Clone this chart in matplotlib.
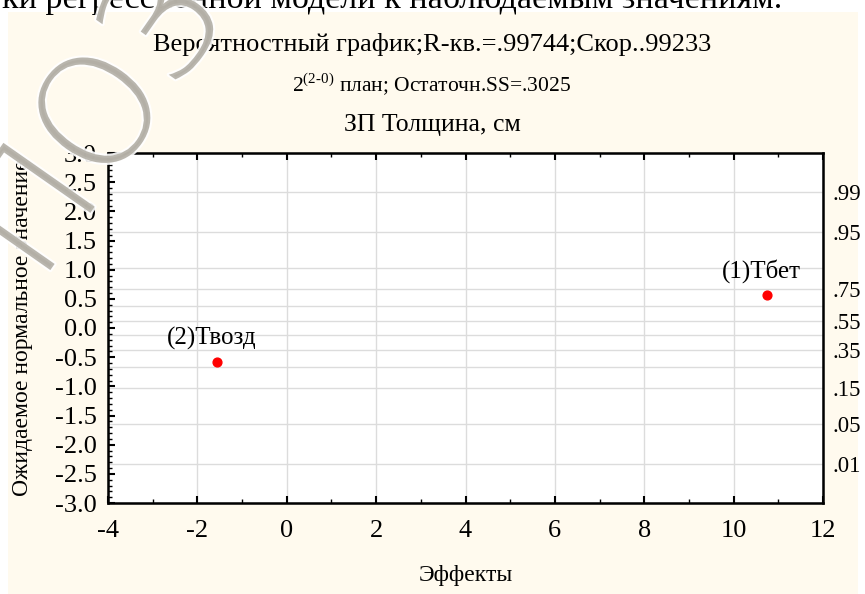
import matplotlib
matplotlib.use("Agg")
import matplotlib.pyplot as plt
import matplotlib.patheffects as pe
from matplotlib.patches import Rectangle
from matplotlib.ticker import MultipleLocator
from statistics import NormalDist

# data
effect_names = ["(1)Тбет", "(2)Твозд"]
effect_values = [10.75, -1.55]
expected_normal = [0.56, -0.59]

grid_probs = [.01, .05, .15, .25, .35, .45, .55, .65, .75, .85, .95, .99]
label_probs = [.01, .05, .15, .35, .55, .75, .95, .99]
prob_labels = [".01", ".05", ".15", ".35", ".55", ".75", ".95", ".99"]

x_ticks = [-4, -2, 0, 2, 4, 6, 8, 10, 12]
y_ticks = [-3.0, -2.5, -2.0, -1.5, -1.0, -0.5, 0.0, 0.5, 1.0, 1.5, 2.0, 2.5, 3.0]

plt.rcParams['font.family'] = ['Liberation Serif', 'DejaVu Serif']
plt.rcParams['mathtext.fontset'] = 'custom'
plt.rcParams['mathtext.rm'] = 'Liberation Serif'

nd = NormalDist()
W, H = 865, 594
fig = plt.figure(figsize=(W / 100, H / 100), dpi=100)
fig.patch.set_facecolor('white')

# cream panel behind the chart
fig.patches.append(Rectangle((8 / W, 0), (858 - 8) / W, 1 - 12 / H,
                             transform=fig.transFigure, facecolor='#fffaee',
                             edgecolor='none', zorder=-5))

# cut off line of page text at the very top
fig.text(2 / W, 1 - 8 / H, "ки регрессионной модели к наблюдаемым значениям.",
         fontsize=24.5, ha='left', va='baseline', color='black')

ax = fig.add_axes([108 / W, 1 - 503 / H, (823 - 108) / W, (503 - 153) / H])
ax.set_facecolor('white')
ax.set_xlim(-4, 12)
ax.set_ylim(-3, 3)

for p in grid_probs:
    ax.axhline(nd.inv_cdf(p), color='#dcdcdc', lw=1, zorder=1)
for xv in x_ticks[1:-1]:
    ax.axvline(xv, color='#dcdcdc', lw=1, zorder=1)

ax.scatter(effect_values, expected_normal, s=40, color='#ff0000', zorder=3)
for name, xv, yv in zip(effect_names, effect_values, expected_normal):
    ax.annotate(name, (xv, yv), xytext=(-4, 9), textcoords='offset points',
                ha='center', va='bottom', fontsize=18, zorder=4)

ax.set_xticks(x_ticks)
ax.set_xticklabels([str(v) for v in x_ticks])
ax.set_yticks(y_ticks)
ax.set_yticklabels(["%.1f" % v for v in y_ticks])
ax.xaxis.set_minor_locator(MultipleLocator(1))
ax.yaxis.set_minor_locator(MultipleLocator(0.1))
ax.tick_params(axis='both', which='major', direction='in', length=5, width=1.5,
               labelsize=19, top=True, right=True)
ax.tick_params(axis='both', which='minor', direction='in', length=3, width=1,
               top=True, right=True)
ax.tick_params(axis='x', pad=12)
ax.tick_params(axis='y', pad=8)
for s in ax.spines.values():
    s.set_linewidth(1.8)

ax2 = ax.twinx()
ax2.set_ylim(-3, 3)
ax2.set_yticks([nd.inv_cdf(p) for p in label_probs])
ax2.set_yticklabels(prob_labels)
ax2.tick_params(axis='y', length=0, labelsize=16.5, pad=7)

ax.set_xlabel("Эффекты", fontsize=17)
ax.xaxis.set_label_coords(0.5, -(565 - 503) / 350)
ax.set_ylabel("Ожидаемое нормальное значение", fontsize=17)
ax.yaxis.set_label_coords((33 - 108) / 715, 0.5)

fig.text(432 / W, 1 - 45 / H, "Вероятностный график;R-кв.=.99744;Скор..99233",
         fontsize=19, ha='center', va='center')
fig.text(432 / W, 1 - 85 / H, r"$2^{\mathrm{(2\text{-}0)}}$ план; Остаточн.SS=.3025",
         fontsize=15.5, ha='center', va='center')
fig.text(432 / W, 1 - 125 / H, "ЗП Толщина, см", fontsize=18.5,
         ha='center', va='center')

# diagonal watermark over the top left corner
fig.text(100 / W, 1 - 125 / H, "ПОЗ", fontsize=110, family='DejaVu Sans',
         fontweight='light', rotation=55, ha='center', va='center',
         color='#b3afa6', alpha=0.9, zorder=10,
         path_effects=[pe.withStroke(linewidth=3, foreground='white')])

fig.savefig("out.png", dpi=100)
